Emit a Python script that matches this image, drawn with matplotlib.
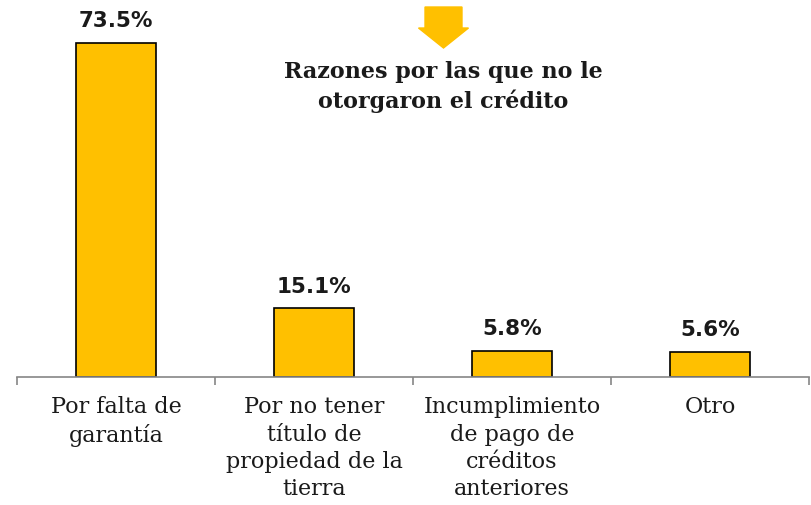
import matplotlib
matplotlib.use("Agg")
import matplotlib.pyplot as plt
from matplotlib.patches import FancyArrow

categories = ["Por falta de\ngarantía", "Por no tener\ntítulo de\npropiedad de la\ntierra",
              "Incumplimiento\nde pago de\ncréditos\nanteriores", "Otro"]
values = [73.5, 15.1, 5.8, 5.6]
value_labels = ["73.5%", "15.1%", "5.8%", "5.6%"]
title = "Razones por las que no le\notorgaron el crédito"

fig = plt.figure(figsize=(8.12, 5.05), dpi=100)
ax = fig.add_axes([17/812, 1-377/505, 792/812, 377/505])
x = list(range(len(values)))
ax.bar(x, values, width=0.4, color="#FFC000", edgecolor="black", linewidth=1.2, zorder=2)
ax.set_xlim(-0.5, 3.5)
ax.set_ylim(0, 83)
for s in ["top", "right", "left"]:
    ax.spines[s].set_visible(False)
ax.spines["bottom"].set_color("#868686")
ax.spines["bottom"].set_linewidth(1.2)
ax.set_yticks([])
ax.set_xticks([-0.5, 0.5, 1.5, 2.5, 3.5])
ax.set_xticklabels([])
ax.tick_params(axis="x", direction="out", length=6, color="#868686", width=1.2)

for xi, v, lab in zip(x, values, value_labels):
    ax.text(xi, v + 2.6, lab, ha="center", va="bottom", fontsize=15.5, fontweight="bold",
            family="DejaVu Sans", color="#1a1a1a")

for xi, c in zip(x, categories):
    ax.text(xi, -4.2, c, ha="center", va="top", fontsize=16, family="DejaVu Serif",
            color="#1a1a1a", linespacing=1.32)

fig.text(443/812, 1-87/505, title, ha="center", va="center", fontsize=16,
         fontweight="bold", family="DejaVu Serif", color="#1a1a1a", linespacing=1.3)

# arrow in figure coords
arrow = FancyArrow(443.5/812, 1-7/505, 0, -(41)/505, width=23/505, head_width=50/812,
                   head_length=20/505, length_includes_head=True, color="#FFC000",
                   transform=fig.transFigure)
fig.patches.append(arrow)

fig.savefig("out.png", dpi=100)
